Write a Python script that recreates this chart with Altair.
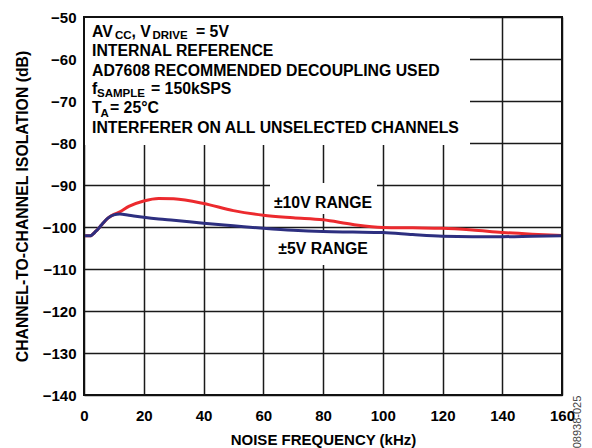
import altair as alt
import pandas as pd

# ---------------- data ----------------
freq_khz = [0, 2, 4, 6, 8, 10, 12, 15, 20, 25, 30, 40, 50, 60, 70, 80, 90,
            100, 110, 120, 130, 140, 150, 160]
iso_10v = [-102.1, -102.1, -101.0, -99.4, -97.9, -97.0, -96.4, -95.1, -93.8,
           -93.2, -93.3, -94.4, -96.1, -97.2, -97.8, -98.3, -99.4, -100.1,
           -100.2, -100.3, -100.7, -101.3, -101.7, -102.0]
iso_5v = [-102.1, -102.1, -101.0, -99.4, -97.9, -97.1, -96.9, -97.2, -97.7,
          -98.1, -98.4, -99.1, -99.7, -100.3, -100.8, -101.1, -101.2, -101.3,
          -101.8, -102.2, -102.3, -102.3, -102.2, -102.1]
series_names = ["±10V RANGE", "±5V RANGE"]
x_ticks = [0, 20, 40, 60, 80, 100, 120, 140, 160]
y_ticks = [-140, -130, -120, -110, -100, -90, -80, -70, -60, -50]

# ---------------- layout ----------------
W, H = 478, 378
X0, X1 = 0, 160
Y0, Y1 = -140, -50
FONT = "Liberation Sans"
RED = "#ec2a2e"
NAVY = "#2d2f80"
GRID = "#1a1a1a"


def fx(px):
    return X0 + px * (X1 - X0) / W


def fy(py):
    return Y1 - py * (Y1 - Y0) / H


n = len(freq_khz)
curves = pd.DataFrame({
    "f": freq_khz * 2,
    "db": iso_10v + iso_5v,
    "series": [series_names[0]] * n + [series_names[1]] * n,
})

xs = alt.Scale(domain=[X0, X1], nice=False, zero=False)
ys = alt.Scale(domain=[Y0, Y1], nice=False, zero=False)
xa = alt.Axis(values=x_ticks, title="NOISE FREQUENCY (kHz)", grid=True,
              labelPadding=13, labelFlush=False, labelOverlap=False,
              titleY=49, titleBaseline="alphabetic")
ya = alt.Axis(values=y_ticks, title="CHANNEL-TO-CHANNEL ISOLATION (dB)",
              grid=True, labelPadding=8, labelOverlap=False,
              titleX=-54, titleY=189, titleFontSize=15.8)

X = lambda fld: alt.X(fld, scale=xs, axis=xa)
Y = lambda fld: alt.Y(fld, scale=ys, axis=ya)

# white boxes behind the annotation texts (pixel layout converted to data)
boxes = pd.DataFrame({
    "f": [fx(0), fx(186), fx(189)],
    "f2": [fx(386), fx(293), fx(286)],
    "db": [fy(0), fy(166), fy(215)],
    "db2": [fy(128), fy(197), fy(248)],
})
box_layer = alt.Chart(boxes).mark_rect(color="white").encode(
    x=X("f:Q"), x2="f2", y=Y("db:Q"), y2="db2")

line_layer = alt.Chart(curves).mark_line(
    strokeWidth=3, interpolate="monotone").encode(
    x=X("f:Q"), y=Y("db:Q"),
    color=alt.Color("series:N", scale=alt.Scale(domain=series_names,
                                                range=[RED, NAVY]),
                    legend=None),
    detail="series:N")

range_lbl = pd.DataFrame({
    "f": [fx(239), fx(239)],
    "db": [fy(191), fy(237)],
    "text": series_names,
})
range_layer = alt.Chart(range_lbl).mark_text(
    align="center", baseline="alphabetic", font=FONT, fontWeight="bold",
    fontSize=15.8, color="black").encode(
    x=X("f:Q"), y=Y("db:Q"), text="text:N")

# condition block (main text + subscripts)
MAIN, SUB = 15.8, 11.5
segs = [
    ("AV", 8, 20, MAIN), ("CC", 31, 21.8, SUB), (", V", 47.5, 20, MAIN),
    ("DRIVE", 68.5, 21.8, SUB), ("= 5V", 112, 20, MAIN),
    ("INTERNAL REFERENCE", 8, 38.5, MAIN),
    ("AD7608 RECOMMENDED DECOUPLING USED", 8, 58.5, MAIN),
    ("f", 8, 77, MAIN), ("SAMPLE", 13, 80, SUB), ("= 150kSPS", 67, 77, MAIN),
    ("T", 8, 96, MAIN), ("A", 16.5, 99.5, SUB), ("= 25°C", 26, 96, MAIN),
    ("INTERFERER ON ALL UNSELECTED CHANNELS", 8, 116, MAIN),
]
cond = pd.DataFrame({
    "text": [s[0] for s in segs],
    "f": [fx(s[1]) for s in segs],
    "db": [fy(s[2]) for s in segs],
    "size": [s[3] for s in segs],
})
cond_layer = alt.Chart(cond).mark_text(
    align="left", baseline="alphabetic", font=FONT, fontWeight="bold",
    color="black").encode(
    x=X("f:Q"), y=Y("db:Q"), text="text:N",
    size=alt.Size("size:Q", scale=None, legend=None))

frame = pd.DataFrame({"f": [X0], "f2": [X1], "db": [Y0], "db2": [Y1]})
frame_layer = alt.Chart(frame).mark_rect(
    filled=False, stroke="#111111", strokeWidth=2).encode(
    x=X("f:Q"), x2="f2", y=Y("db:Q"), y2="db2")

foot = pd.DataFrame({"text": ["08938-025"]})
foot_layer = alt.Chart(foot).mark_text(
    angle=270, align="center", baseline="middle", font=FONT, fontSize=11,
    color="#444444").encode(
    x=alt.value(494), y=alt.value(405), text="text:N")

chart = alt.layer(
    box_layer, line_layer, range_layer, cond_layer, frame_layer, foot_layer
).properties(
    width=W, height=H,
    autosize=alt.AutoSizeParams(type="none"),
    padding={"left": 76, "top": 9, "right": 22, "bottom": 53},
    background="white",
).configure_view(
    stroke="transparent"
).configure_axis(
    gridColor=GRID, gridWidth=1.5, gridOpacity=1, domain=False, ticks=False,
    tickSize=0, labelFont=FONT, labelFontSize=15, labelFontWeight="bold",
    labelColor="black", titleFont=FONT, titleFontSize=15,
    titleFontWeight="bold", titleColor="black"
)

chart.save("out.html", embed_options={"renderer": "svg", "actions": False})
